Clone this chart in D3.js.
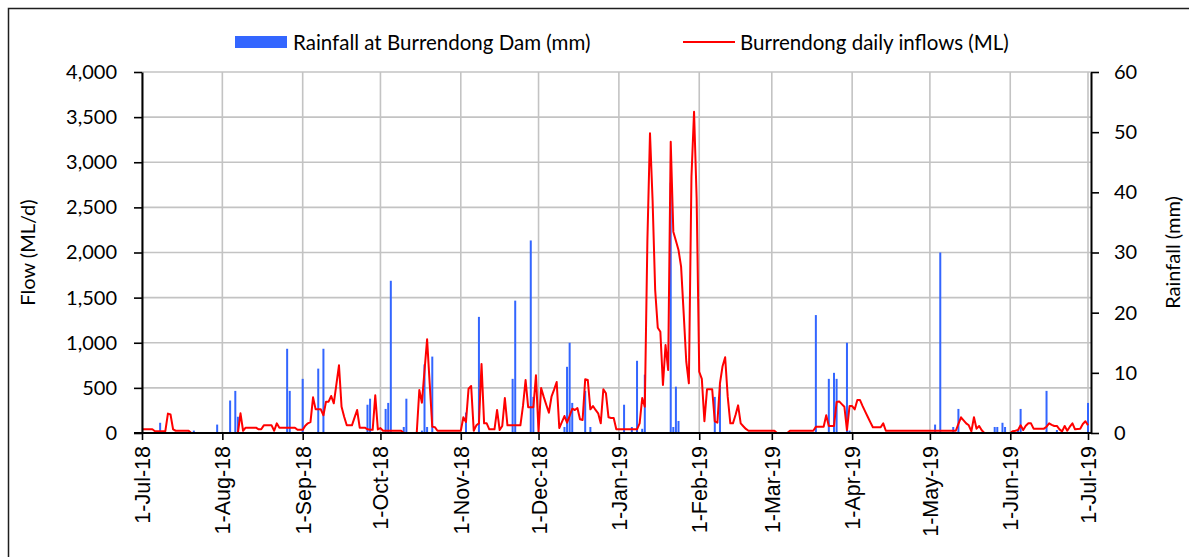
<!DOCTYPE html>
<html>
<head>
<meta charset="utf-8">
<script src="https://cdn.jsdelivr.net/npm/d3@7"></script>
<style>
  html, body { margin: 0; padding: 0; background: #fff; }
  svg { display: block; }
</style>
</head>
<body>
<svg id="chart" width="1189" height="557"></svg>
<script>
// ---------------- DATA ----------------
const startDate = "2018-07-01";
const endDate = "2019-07-01";

// Daily inflows (ML/d), one array per month, starting 1-Jul-18
const inflowJul18 = [41,41,41,41,41,20,20,20,20,20,215,205,40,25,25,25,25,25,25,0,0,0,0,0,0,0,0,0,0,0,0];
const inflowAug18 = [0,0,0,0,0,0,0,218,25,59,59,59,59,59,41,41,85,85,85,85,25,107,59,59,59,59,59,59,59,35,35];
const inflowSep18 = [35,80,107,120,395,262,262,262,196,347,347,410,329,540,750,291,180,85,85,85,170,255,59,59,59,41,35,35,418,40];
const inflowOct18 = [54,25,25,25,25,25,25,25,25,0,0,0,0,0,0,476,336,690,1038,550,70,65,25,25,25,25,25,25,25,25,25];
const inflowNov18 = [25,174,122,491,521,25,85,107,765,107,107,41,41,41,255,33,78,388,85,85,85,85,85,85,300,587,285,285,285,639];
const inflowDec18 = [18,499,400,310,225,402,480,565,55,120,188,114,190,269,255,277,152,144,595,587,262,299,255,218,107,484,440,174,166,166,41];
const inflowJan19 = [41,41,41,41,41,41,41,41,107,388,291,2139,3320,2582,1584,1167,1122,532,975,698,3228,2231,2130,2028,1843,1326,790,551,2840,3560,2600];
const inflowFeb19 = [679,600,130,484,484,484,130,115,551,740,839,400,107,107,200,306,107,75,45,25,25,25,25,25,25,25,25,25];
const inflowMar19 = [25,25,0,0,0,0,0,25,25,25,25,25,25,25,25,25,25,70,70,70,70,196,78,78,78,343,350,320,291,33,299];
const inflowApr19 = [299,262,366,366,300,240,180,120,63,63,63,63,107,25,25,25,25,25,25,25,25,25,25,25,25,25,25,25,25,25];
const inflowMay19 = [25,25,25,25,25,25,25,25,25,25,25,100,174,140,107,85,18,174,48,78,30,0,0,0,0,0,0,0,0,0,0];
const inflowJun19 = [0,20,25,33,85,33,80,107,107,48,48,48,48,48,70,107,90,78,78,40,18,78,25,70,107,41,45,48,100,130];
const inflowJul19 = [85];

// Rainfall at Burrendong Dam (mm): days with rain
const rainDates = ["2018-07-08","2018-07-21","2018-07-30","2018-08-04","2018-08-06","2018-08-07","2018-08-26","2018-08-27",
  "2018-09-01","2018-09-07","2018-09-09","2018-09-26","2018-09-27","2018-10-03","2018-10-04","2018-10-05","2018-10-10",
  "2018-10-11","2018-10-17","2018-10-18","2018-10-19","2018-10-21","2018-11-03","2018-11-08","2018-11-21","2018-11-22",
  "2018-11-28","2018-11-29","2018-12-11","2018-12-12","2018-12-13","2018-12-14","2018-12-19","2018-12-21","2019-01-03",
  "2019-01-06","2019-01-08","2019-01-10","2019-01-11","2019-01-21","2019-01-22","2019-01-23","2019-01-24","2019-02-07",
  "2019-02-09","2019-03-18","2019-03-23","2019-03-25","2019-03-26","2019-03-30","2019-03-31","2019-05-03","2019-05-05",
  "2019-05-10","2019-05-12","2019-05-26","2019-05-27","2019-05-29","2019-05-30","2019-06-04","2019-06-05","2019-06-15",
  "2019-06-19","2019-07-01"];
const rainMm = [1.7,0.4,1.4,5.4,7.0,2.7,14,7,
  9,10.7,14,4.7,5.7,4,5,25.3,1,
  5.7,0.4,11.4,1,12.7,3.4,19.3,9,22,
  32,6,1,11,15,5,7,1,4.7,
  1,12,0.7,9.7,41.6,1,7.7,2,6,
  8,19.6,9,10,9,15,0.4,1.4,30,
  1,4,1,1,1.7,1,0.5,4,7,
  0.5,5];

// Tick labels
const monthTicks = ["2018-07-01","2018-08-01","2018-09-01","2018-10-01","2018-11-01","2018-12-01","2019-01-01",
  "2019-02-01","2019-03-01","2019-04-01","2019-05-01","2019-06-01","2019-07-01"];
const flowTicks = [0,500,1000,1500,2000,2500,3000,3500,4000];
const rainTicks = [0,10,20,30,40,50,60];

const legendLabels = ["Rainfall at Burrendong Dam (mm)", "Burrendong daily inflows (ML)"];
const leftTitle = "Flow (ML/d)";
const rightTitle = "Rainfall (mm)";

// ---------------- CHART ----------------
const parse = d3.timeParse("%Y-%m-%d");
const fmt = d3.timeFormat("%-d-%b-%y");
const inflowAll = [].concat(inflowJul18, inflowAug18, inflowSep18, inflowOct18, inflowNov18, inflowDec18,
  inflowJan19, inflowFeb19, inflowMar19, inflowApr19, inflowMay19, inflowJun19, inflowJul19);
const t0 = parse(startDate);
const inflow = inflowAll.map((v, i) => ({ date: d3.timeDay.offset(t0, i), v }));
const rain = rainDates.map((d, i) => ({ date: parse(d), v: rainMm[i] }));

const L = 142, R = 1088, RA = 1091, T = 72, B = 433;
const calibri = "Lato, 'Open Sans', sans-serif";
const arial = "'Liberation Sans', Arial, sans-serif";

const x = d3.scaleTime().domain([parse(startDate), parse(endDate)]).range([L, R]);
const yL = d3.scaleLinear().domain([0, 4000]).range([B, T]);
const yR = d3.scaleLinear().domain([0, 60]).range([B, T]);

const svg = d3.select("#chart");

// frame
svg.append("rect").attr("x", 8.5).attr("y", 8.5).attr("width", 1300).attr("height", 700)
  .attr("fill", "#fff").attr("stroke", "#1e1e1e").attr("stroke-width", 1.5);

// gridlines
const grid = svg.append("g");
grid.selectAll("line.h").data(flowTicks).join("line")
  .attr("x1", L).attr("x2", RA).attr("y1", d => yL(d)).attr("y2", d => yL(d))
  .attr("stroke", "#c3c3c3").attr("stroke-width", 1.6);
grid.selectAll("line.v").data(monthTicks.map(parse)).join("line")
  .attr("x1", d => x(d)).attr("x2", d => x(d)).attr("y1", T).attr("y2", B)
  .attr("stroke", "#c3c3c3").attr("stroke-width", 1.6);

// rainfall bars
svg.append("g").selectAll("rect").data(rain).join("rect")
  .attr("x", d => x(d.date) - 1).attr("width", 2)
  .attr("y", d => yR(d.v)).attr("height", d => B - yR(d.v))
  .attr("fill", "#3366ff");

// inflow line
svg.append("path").datum(inflow)
  .attr("fill", "none").attr("stroke", "#ff0000").attr("stroke-width", 2).attr("stroke-linejoin", "round")
  .attr("d", d3.line().x(d => x(d.date)).y(d => yL(d.v)));

// left axis
const gL = svg.append("g").attr("transform", `translate(${L},0)`)
  .call(d3.axisLeft(yL).tickValues(flowTicks).tickFormat(d3.format(",")).tickSize(8).tickSizeOuter(0).tickPadding(17));
gL.select(".domain").attr("stroke", "#000").attr("stroke-width", 2);
gL.selectAll(".tick line").attr("stroke", "#000").attr("stroke-width", 1.6);
gL.selectAll("text").attr("font-family", calibri).attr("font-size", 20).attr("fill", "#000");

// right axis
const gR = svg.append("g").attr("transform", `translate(${RA},0)`)
  .call(d3.axisRight(yR).tickValues(rainTicks).tickSize(8).tickSizeOuter(0).tickPadding(15));
gR.select(".domain").attr("stroke", "#000").attr("stroke-width", 2);
gR.selectAll(".tick line").attr("stroke", "#000").attr("stroke-width", 1.6);
gR.selectAll("text").attr("font-family", calibri).attr("font-size", 20).attr("fill", "#000");

// bottom axis
const gB = svg.append("g").attr("transform", `translate(0,${B})`)
  .call(d3.axisBottom(x).tickValues(monthTicks.map(parse)).tickFormat(fmt).tickSize(7).tickSizeOuter(0));
gB.select(".domain").attr("stroke", "none");
gB.selectAll(".tick line").attr("stroke", "#000").attr("stroke-width", 1.6);
gB.selectAll("text")
  .attr("font-family", arial).attr("font-size", 21.5).attr("fill", "#000")
  .attr("y", 0).attr("x", -13).attr("dy", "0.35em")
  .attr("transform", "rotate(-90)").attr("text-anchor", "end");
svg.append("line").attr("x1", L - 8).attr("x2", RA).attr("y1", B).attr("y2", B)
  .attr("stroke", "#000").attr("stroke-width", 2);

// axis titles
svg.append("text").attr("transform", `translate(27,${(T + B) / 2}) rotate(-90)`)
  .attr("text-anchor", "middle").attr("dominant-baseline", "central")
  .attr("font-family", calibri).attr("font-size", 20).text(leftTitle);
svg.append("text").attr("transform", `translate(1172,${(T + B) / 2}) rotate(-90)`)
  .attr("text-anchor", "middle").attr("dominant-baseline", "central")
  .attr("font-family", calibri).attr("font-size", 20).text(rightTitle);

// legend
const lg = svg.append("g");
lg.append("rect").attr("x", 235).attr("y", 36).attr("width", 52).attr("height", 12).attr("fill", "#3366ff");
lg.append("text").attr("x", 293).attr("y", 42).attr("dominant-baseline", "central")
  .attr("font-family", calibri).attr("font-size", 20.5).text(legendLabels[0]);
lg.append("line").attr("x1", 683).attr("x2", 735).attr("y1", 42).attr("y2", 42)
  .attr("stroke", "#ff0000").attr("stroke-width", 2);
lg.append("text").attr("x", 740).attr("y", 42).attr("dominant-baseline", "central")
  .attr("font-family", calibri).attr("font-size", 20.5).text(legendLabels[1]);
</script>
</body>
</html>
